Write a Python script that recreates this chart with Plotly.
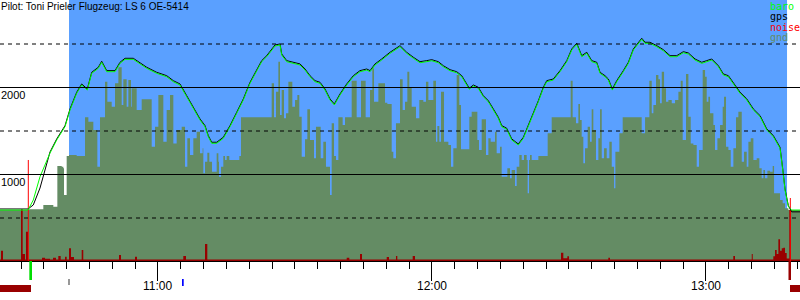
import plotly.graph_objects as go

# ---------------- data (time = minutes since midnight, altitude in m) ----------------
title_text = "Pilot: Toni Prieler Flugzeug: LS 6 OE-5414"

baro_t = [625.40, 631.53, 632.69, 634.16, 636.35, 637.82, 639.64, 640.73, 642.20, 643.29,
          644.52, 645.48, 646.93, 647.67, 648.77, 650.59, 651.68, 652.78, 654.59, 656.43,
          657.53, 659.72, 661.91, 663.35, 664.82, 666.29, 667.73, 669.20, 670.30, 671.02,
          671.76, 672.86, 674.30, 675.77, 677.24, 678.69, 680.15, 681.62, 682.71, 683.81,
          684.91, 685.63, 686.72, 687.09, 688.19, 689.64, 691.10, 692.20, 693.29, 694.39,
          695.48, 696.58, 697.67, 698.62, 699.86, 701.33, 702.78, 704.24, 705.71, 706.44,
          707.53, 708.99, 710.81, 713.00, 714.47, 715.92, 717.38, 718.85, 719.95, 721.39,
          722.49, 723.96, 725.42, 726.52, 727.24, 728.18, 729.06, 730.15, 731.25, 732.34,
          733.44, 734.53, 735.28, 736.37, 737.47, 738.91, 740.01, 741.11, 742.20, 743.30,
          744.39, 745.14, 746.58, 748.05, 749.52, 750.61, 751.71, 752.80, 753.90, 754.99,
          756.09, 756.81, 757.90, 758.63, 759.50, 760.47, 761.91, 763.01, 764.10, 765.20,
          765.94, 766.66, 767.76, 769.23, 770.67, 772.14, 773.61, 775.05, 776.15, 777.61,
          779.08, 780.18, 781.27, 782.72, 783.81, 784.91, 786.01, 787.47, 788.94, 790.38,
          791.85, 793.32, 794.76, 796.23, 796.82, 797.32, 798.05, 798.79, 800.60]

baro_alt = [586, 586, 701, 969, 1241, 1391, 1544, 1736, 1928, 2023,
            1965, 2157, 2215, 2284, 2176, 2176, 2272, 2318, 2318, 2253,
            2215, 2157, 2118, 2061, 2023, 1888, 1755, 1621, 1544, 1429,
            1353, 1353, 1410, 1544, 1698, 1851, 2042, 2176, 2291, 2348,
            2425, 2471, 2483, 2368, 2291, 2272, 2253, 2195, 2118, 2061,
            2042, 1965, 1851, 1793, 1908, 2023, 2118, 2176, 2195, 2176,
            2253, 2310, 2387, 2463, 2387, 2330, 2279, 2291, 2302, 2279,
            2233, 2187, 2164, 2118, 2061, 1974, 2011, 1985, 1888, 1831,
            1736, 1640, 1544, 1514, 1391, 1333, 1410, 1544, 1678, 1831,
            1985, 2061, 2080, 2176, 2291, 2425, 2491, 2348, 2387, 2291,
            2272, 2157, 2118, 2080, 1965, 2061, 2176, 2272, 2425, 2502,
            2548, 2502, 2502, 2463, 2417, 2348, 2348, 2394, 2379, 2310,
            2272, 2291, 2310, 2233, 2138, 2118, 2042, 1928, 1851, 1736,
            1659, 1506, 1429, 1295, 1046, 816, 624, 586, 586]

gps_alt = [598, 598, 644, 839, 1253, 1403, 1556, 1748, 1940, 2035,
           1977, 2169, 2227, 2296, 2188, 2188, 2284, 2330, 2330, 2265,
           2227, 2169, 2130, 2073, 2035, 1900, 1767, 1633, 1556, 1441,
           1365, 1365, 1422, 1556, 1710, 1863, 2054, 2188, 2303, 2360,
           2437, 2483, 2495, 2380, 2303, 2284, 2265, 2207, 2130, 2073,
           2054, 1977, 1863, 1805, 1920, 2035, 2130, 2188, 2207, 2188,
           2265, 2322, 2399, 2475, 2399, 2342, 2291, 2303, 2314, 2291,
           2245, 2199, 2176, 2130, 2073, 1986, 2023, 1997, 1900, 1843,
           1748, 1652, 1556, 1526, 1403, 1345, 1422, 1556, 1690, 1843,
           1997, 2073, 2092, 2188, 2303, 2437, 2503, 2360, 2399, 2303,
           2284, 2169, 2130, 2092, 1977, 2073, 2188, 2284, 2437, 2514,
           2560, 2514, 2514, 2475, 2429, 2360, 2360, 2406, 2391, 2322,
           2284, 2303, 2322, 2245, 2150, 2130, 2054, 1940, 1863, 1748,
           1671, 1518, 1441, 1307, 1058, 828, 636, 565, 565]

gnd_t = [625.40, 631.61, 634.89, 637.08, 637.96, 638.91, 639.27, 639.42, 640.00, 640.51,
         642.19, 644.02, 644.75, 645.84, 646.72, 647.30, 648.40, 648.91, 649.86, 650.59,
         651.32, 652.05, 652.41, 653.14, 653.51, 654.09, 654.24, 655.33, 656.43, 658.62,
         659.35, 660.08, 661.17, 661.90, 662.63, 663.36, 664.09, 665.19, 665.92, 666.43,
         667.01, 667.74, 668.47,
         669.20, 669.78, 669.93, 670.30, 670.81, 671.24, 671.83, 672.85, 673.22, 673.36,
         673.80, 674.31, 674.68, 675.04, 675.62, 677.81, 678.18, 684.90, 685.41, 685.84,
         686.36, 686.72, 687.09, 687.60, 688.03, 688.55, 689.42, 690.01, 690.52, 690.95,
         691.47, 692.20, 692.71, 693.29, 694.17, 694.60, 695.63, 696.21, 696.79, 697.67,
         698.04, 698.55, 698.98, 699.50, 700.44, 700.96, 702.42, 703.51, 704.46, 705.48,
         706.43, 706.94, 707.31, 708.26, 709.72, 710.23, 711.18, 711.54, 712.12,
         713.00, 713.58, 714.10, 714.61, 715.04, 715.56, 716.50, 717.23, 718.11, 718.69,
         719.21, 720.30, 720.88, 721.18, 721.61, 721.98, 722.64, 723.59, 724.17, 724.68,
         725.41, 725.99, 726.36, 728.18, 728.70, 729.94, 730.30, 730.89, 731.83, 732.35,
         732.86, 733.81, 734.17, 734.90, 735.27, 736.51, 737.09, 737.46, 738.19, 738.55,
         739.13, 739.65, 740.16, 740.74, 740.96, 741.25, 741.47, 741.84, 743.30, 745.34,
         746.22, 750.38, 750.81, 751.54, 752.06, 752.42, 752.79, 753.15, 753.52, 754.10,
         754.61, 754.98, 755.34, 755.92, 756.44,
         756.81, 757.18, 757.69, 758.27, 758.85, 759.37, 759.88, 760.17, 761.04, 761.77,
         765.93, 766.67, 767.61, 768.13, 768.49, 769.07, 769.59, 769.95, 770.32, 770.83,
         771.26, 771.78, 772.51, 773.24, 773.97, 774.48, 774.91, 775.64, 776.16, 776.67,
         777.25, 777.98, 778.49, 779.29, 779.81, 780.17, 780.54, 780.90, 781.63, 781.99,
         782.51, 783.09, 783.67, 783.97, 784.40, 784.92, 785.43, 786.01, 786.59, 787.10,
         787.84, 788.35, 788.93, 789.30, 789.81, 790.39, 791.12, 791.70, 792.21, 792.58,
         792.94, 793.46, 794.04, 794.62, 794.92, 796.23, 796.81, 797.32, 798.05, 800.60]

gnd_alt = [586, 594, 644, 625, 1092, 1084, 1065, 759, 1207, 1218,
           1207, 1651, 1601, 1506, 1084, 1651, 2061, 1831, 1774, 2042,
           2226, 1793, 2088, 1774, 2080, 1774, 1985, 1736, 1858, 1314,
           1544, 1908, 1372, 1736, 1908, 1352, 1506, 1544, 1084, 1410,
           1218, 1410, 1487,
           1238, 1295, 1008, 1142, 1245, 1142, 1027, 1238, 1142, 969,
           1084, 1207, 1161, 1207, 1161, 1207, 1651, 2042, 1651, 1946,
           2291, 1678, 1965, 1640, 1697, 2061, 1774, 1851, 1908, 1659,
           1199, 1398, 1743, 1391, 1180, 1544, 1180, 1372, 1084, 759,
           1582, 1207, 1161, 1651, 1563, 1651, 2073, 1651, 2073, 1651,
           1965, 2215, 1831, 2042, 1820, 1805, 1257, 1180, 1582,
           2088, 1736, 1831, 2176, 1996, 1774, 1640, 1851, 1831, 2061,
           1851, 2073, 1372, 1552, 1372, 1946, 1372, 1333, 1084, 1295,
           2138, 1793, 1284, 1659, 1716, 1391, 1276, 1628, 1218, 1410,
           1372, 1487, 1238, 1314, 969, 1065, 950, 1046, 862, 1084,
           1218, 1161, 1218, 1161, 778, 1161, 1218, 1161, 1207, 1467,
           1651, 2073, 1651, 1582, 1805, 1621, 1429, 1123, 1295, 1544,
           1372, 1743, 1506, 1161, 1410,
           1743, 1180, 1295, 1180, 1372, 1084, 835, 1257, 1467, 1651,
           1467, 1651, 2073, 1697, 1793, 2138, 2088, 1812, 2176, 1985,
           1831, 1851, 1812, 1851, 1946, 2073, 1391, 2149, 1659, 1352,
           1333, 1084, 1276, 2195, 2119, 1831, 1889, 1697, 1563, 1276,
           1410, 1563, 1774, 1889, 1314, 1276, 1084, 1295, 1651, 1716,
           1142, 1257, 1084, 1372, 1410, 1161, 1180, 1065, 950, 1046,
           950, 1038, 1027, 1092, 778, 701, 663, 605, 586, 586]

enl_t = [625.40, 625.62, 626.06, 630.00, 630.37, 630.88, 631.09, 631.53, 634.60, 635.26,
         636.35, 637.01, 637.66, 638.17, 638.69, 639.64, 640.01, 640.51, 640.95, 641.61,
         643.29, 643.64, 651.46, 651.90, 654.97, 655.40, 665.54, 666.13, 670.30, 670.80,
         701.33, 701.90, 704.24, 704.68, 710.09, 710.59, 712.12, 712.41, 715.78, 716.29,
         748.26, 748.77, 749.64, 750.02, 758.62, 758.99, 785.99, 786.37, 790.03, 790.25,
         794.76, 795.13, 795.50, 795.86, 796.23, 796.60, 796.95, 797.32, 797.69, 798.26,
         798.63, 800.60]
enl_val = [17, 118, 17, 594, 80, 17, 337, 17, 38, 26,
           17, 38, 17, 57, 17, 50, 17, 146, 46, 17,
           126, 17, 69, 17, 50, 17, 57, 17, 195, 17,
           38, 17, 80, 17, 46, 17, 57, 17, 57, 17,
           96, 33, 55, 17, 38, 17, 57, 17, 80, 17,
           54, 126, 80, 249, 119, 146, 153, 92, 30, 586,
           17, 17]

noise_t = [631.60, 798.48]
noise_val = [1161, 724]

sky_start, sky_end = 640.51, 797.76           # flight window (blue background)
takeoff_t = [631.82, 632.41]                   # green marker
landing_t = [798.08, 798.63]                   # dark red marker
engine_bars = [[625.40, 632.19], [798.41, 800.60]]
blue_mark_t = [665.26, 665.63]
black_mark_t = [640.40, 640.62]

x_range = [625.4, 800.6]
y_range = [0, 3000]
major_ticks = [660, 720, 780]
grid_solid = [1000, 2000]
grid_dash = [500, 1500, 2500]
y_labels = [1000, 2000]
legend_items = [("baro", "#00ff00"), ("gps", "#000000"), ("noise", "#ff0000"), ("gnd", "#648c64")]

# ---------------- figure ----------------
GND = "#648c64"
SKY = "#5aa0ff"
ENL = "#990000"
H = 261.0                                    # plot height in px
half_px = 0.5 * (y_range[1] - y_range[0]) / H  # to put 1px lines on a pixel row

fig = go.Figure()

fig.add_trace(go.Scatter(x=gnd_t, y=gnd_alt, mode="lines", line=dict(width=0, shape="hv"),
                         fill="tozeroy", fillcolor=GND, hoverinfo="skip"))
fig.add_trace(go.Scatter(x=enl_t, y=enl_val, mode="lines", line=dict(width=0, shape="hv"),
                         fill="tozeroy", fillcolor=ENL, hoverinfo="skip"))
nx, ny = [], []
for t, v in zip(noise_t, noise_val):
    nx += [t, t, None]
    ny += [0, v, None]
fig.add_trace(go.Scatter(x=nx, y=ny, mode="lines", line=dict(width=1, color="#ff0000")))
fig.add_trace(go.Scatter(x=baro_t, y=gps_alt, mode="lines", line=dict(width=1, color="#000000")))
fig.add_trace(go.Scatter(x=baro_t, y=baro_alt, mode="lines", line=dict(width=1, color="#00ff00")))

shapes = [dict(type="rect", xref="x", yref="paper", x0=sky_start, x1=sky_end, y0=0, y1=1,
               fillcolor=SKY, line=dict(width=0), layer="below")]
for v in grid_solid:
    shapes.append(dict(type="line", xref="paper", yref="y", x0=0, x1=1,
                       y0=v - half_px, y1=v - half_px,
                       line=dict(color="black", width=1), layer="above"))
for v in grid_dash:
    shapes.append(dict(type="line", xref="paper", yref="y", x0=0, x1=1,
                       y0=v - half_px, y1=v - half_px,
                       line=dict(color="black", width=1, dash="4px,4px"), layer="above"))


def py(px):
    return (H - px) / H


for a, b in engine_bars:
    shapes.append(dict(type="rect", xref="x", yref="paper", x0=a, x1=b, y0=py(292), y1=py(285),
                       fillcolor=ENL, line=dict(width=0)))
shapes.append(dict(type="rect", xref="x", yref="paper", x0=takeoff_t[0], x1=takeoff_t[1],
                   y0=py(280), y1=py(261), fillcolor="#00dd00", line=dict(width=0)))
shapes.append(dict(type="rect", xref="x", yref="paper", x0=landing_t[0], x1=landing_t[1],
                   y0=py(280), y1=py(261), fillcolor=ENL, line=dict(width=0)))
shapes.append(dict(type="rect", xref="x", yref="paper", x0=blue_mark_t[0], x1=blue_mark_t[1],
                   y0=py(286), y1=py(279), fillcolor="#0000ff", line=dict(width=0)))
shapes.append(dict(type="rect", xref="x", yref="paper", x0=black_mark_t[0], x1=black_mark_t[1],
                   y0=py(285), y1=py(279), fillcolor="#333333", line=dict(width=0)))

annotations = [dict(text=title_text, xref="paper", yref="paper", x=0, y=1, xanchor="left",
                    yanchor="top", showarrow=False, borderpad=0,
                    font=dict(family="Liberation Sans, Arial", size=10, color="#000000"))]
for v in major_ticks:
    annotations.append(dict(text=f"{v // 60}:{v % 60:02d}", xref="x", yref="paper", x=v,
                            y=py(285.5), xanchor="center", yanchor="middle", showarrow=False,
                            font=dict(family="Liberation Sans, Arial", size=12, color="#000000")))
for v in y_labels:
    annotations.append(dict(text=str(v), xref="paper", yref="y", x=0, y=v, xanchor="left",
                            yanchor="top", showarrow=False, borderpad=0, yshift=-1,
                            font=dict(family="Liberation Sans, Arial", size=11, color="#000000")))
for i, (name, col) in enumerate(legend_items):
    annotations.append(dict(text=name, xref="paper", yref="paper", x=769 / 800,
                            y=py(6.5 + i * 10.3), xanchor="left", yanchor="middle",
                            showarrow=False, borderpad=0,
                            font=dict(family="DejaVu Sans Mono", size=10, color=col)))

fig.update_layout(
    width=800, height=300,
    margin=dict(l=0, r=0, t=0, b=39, pad=0),
    paper_bgcolor="white", plot_bgcolor="white",
    showlegend=False,
    shapes=shapes, annotations=annotations,
    xaxis=dict(range=x_range, showgrid=False, zeroline=False, showline=True,
               linecolor="black", linewidth=1, ticks="outside", tickmode="linear",
               tick0=0, dtick=60, ticklen=19, tickcolor="black", tickwidth=1,
               showticklabels=False, fixedrange=True,
               minor=dict(ticks="outside", tick0=0, dtick=5, ticklen=7,
                          tickcolor="black", tickwidth=1, showgrid=False)),
    yaxis=dict(range=y_range, showgrid=False, zeroline=False, showline=False,
               showticklabels=False, ticks="", fixedrange=True),
)

fig.write_html("out.html")
